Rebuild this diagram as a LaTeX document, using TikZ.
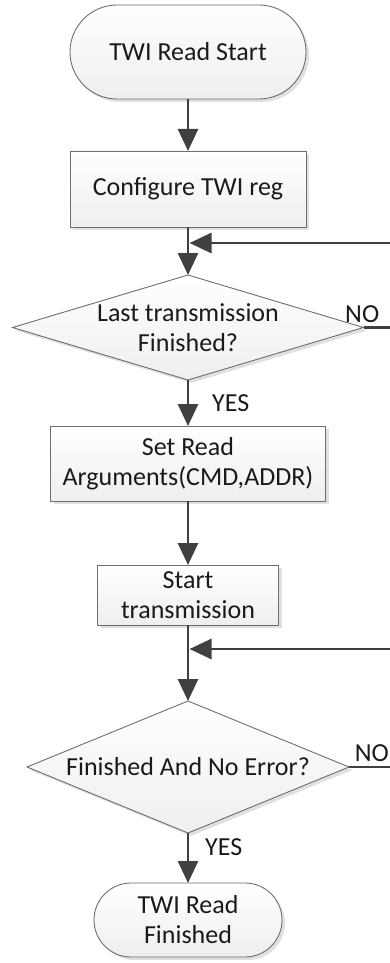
\documentclass[tikz,border=0pt]{standalone}
\usepackage{fontspec}
\setmainfont{Carlito}
\usetikzlibrary{arrows.meta,shapes.geometric,shadows}
\definecolor{lineC}{HTML}{404040}
\definecolor{bordC}{HTML}{6E6E6E}
\definecolor{txtC}{HTML}{1A1A1A}
\begin{document}
\begin{tikzpicture}[x=1pt,y=-1pt,
  font=\fontsize{26}{30}\selectfont, text=txtC,
  shp/.style={draw=bordC, line width=0.9pt, top color=white, bottom color=gray!13,
    drop shadow={shadow xshift=3pt, shadow yshift=-3pt, fill=black, opacity=0.12},
    inner sep=0pt, outer sep=0pt, align=center},
  term/.style={shp, rectangle},
  proc/.style={shp, rectangle},
  dec/.style={shp, diamond},
  flow/.style={draw=lineC, line width=2.7pt, -{Triangle[length=22pt,width=20pt]}},
  plain/.style={draw=lineC, line width=2.7pt},
  lbl/.style={inner sep=0pt, text=txtC}]
\useasboundingbox (0,0) rectangle (390,963);

\node[term, rounded corners=47pt, minimum width=236pt, minimum height=94pt] (start) at (188,52) {TWI Read Start};
\node[proc, minimum width=236pt, minimum height=76pt] (config) at (188,189) {Configure TWI reg};
\node[dec, minimum width=351pt, minimum height=105pt] (d1) at (188,327.5) {};
\node[lbl, align=center] (d1t) at (188,327.5) {Last transmission\\Finished?};
\node[proc, minimum width=275pt, minimum height=75pt] (setr) at (188,463.5) {Set Read\\Arguments(CMD,ADDR)};
\node[proc, minimum width=181pt, minimum height=60pt] (stx) at (188,595) {Start\\transmission};
\node[dec, minimum width=322pt, minimum height=132pt] (d2) at (188,767) {};
\node[lbl] (d2t) at (188,767) {Finished And No Error?};
\node[term, rounded corners=37pt, minimum width=188pt, minimum height=74pt] (endt) at (188,920) {TWI Read\\Finished};

\coordinate (r1) at (390,327.5);
\coordinate (r1t) at (390,243);
\coordinate (m1) at (189.5,243);
\coordinate (r2) at (390,767);
\coordinate (r2t) at (390,649);
\coordinate (m2) at (189.5,649);

\draw[flow] (start.south) -- (config.north);
\draw[flow] (config.south) -- (d1.north);
\draw[flow] (d1.south) -- (setr.north);
\draw[flow] (setr.south) -- (stx.north);
\draw[flow] (stx.south) -- (d2.north);
\draw[flow] (d2.south) -- (endt.north);

\draw[plain] (d1.east) -- (r1);
\draw[flow] (r1t) -- (m1);
\draw[plain] (d2.east) -- (r2);
\draw[flow] (r2t) -- (m2);

\node[lbl, anchor=west] (yes1) at (212,403) {YES};
\node[lbl, anchor=west] (yes2) at (205,847) {YES};
\node[lbl, anchor=west] (no1) at (345,314) {NO};
\node[lbl, anchor=east] (no2) at (389,753) {NO};
\end{tikzpicture}
\end{document}
